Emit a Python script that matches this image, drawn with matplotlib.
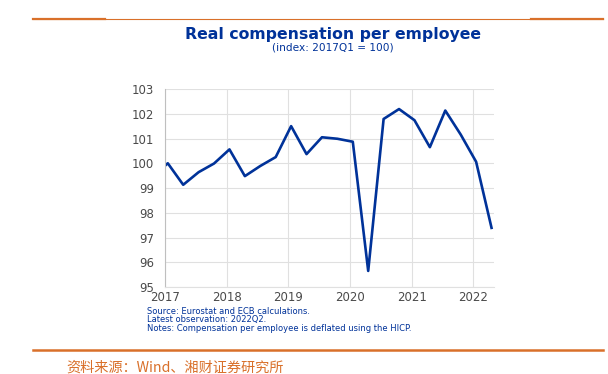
import numpy as np
import matplotlib.pyplot as plt

# quarterly data, 2016Q4 .. 2022Q2
quarters = ["2016Q4",
            "2017Q1", "2017Q2", "2017Q3", "2017Q4",
            "2018Q1", "2018Q2", "2018Q3", "2018Q4",
            "2019Q1", "2019Q2", "2019Q3", "2019Q4",
            "2020Q1", "2020Q2", "2020Q3", "2020Q4",
            "2021Q1", "2021Q2", "2021Q3", "2021Q4",
            "2022Q1", "2022Q2"]
values = [99.45,
          100.0, 99.13, 99.64, 99.99,
          100.56, 99.48, 99.89, 100.25,
          101.50, 100.37, 101.05, 100.99,
          100.87, 95.65, 101.79, 102.19,
          101.74, 100.65, 102.13, 101.16,
          100.06, 97.39]
year_ticks = [2017, 2018, 2019, 2020, 2021, 2022]
y_ticks = [95, 96, 97, 98, 99, 100, 101, 102, 103]

blue = "#003299"
orange = "#d9702a"

x = np.array([int(q[:4]) + (int(q[5]) - 1) / 4 + 0.045 for q in quarters])

fig = plt.figure(figsize=(6.08, 3.74), dpi=100)
ax = fig.add_axes([0.2714, 0.2326, 0.5411, 0.5294])

ax.plot(x, values, color=blue, lw=1.9, clip_on=True)
ax.set_xlim(2017, 2022.335)
ax.set_ylim(95, 103)
ax.set_xticks(year_ticks)
ax.set_yticks(y_ticks)
ax.grid(True, color="#e0e0e0", lw=0.8)
ax.set_axisbelow(True)
for s in ["top", "right"]:
    ax.spines[s].set_visible(False)
ax.spines["left"].set_color("#bfbfbf")
ax.spines["bottom"].set_color("#e0e0e0")
ax.tick_params(axis="y", length=0, pad=8, labelsize=8.5, labelcolor="#4a4a4a")
ax.tick_params(axis="x", length=0, pad=3, labelsize=8.5, labelcolor="#4a4a4a")

fig.text(0.548, 1 - 34.5 / 374, "Real compensation per employee", ha="center", va="center",
         fontsize=11.3, fontweight="bold", color=blue)
fig.text(0.548, 1 - 47 / 374, "(index: 2017Q1 = 100)", ha="center", va="center",
         fontsize=7.6, color=blue)

notes = ["Source: Eurostat and ECB calculations.",
         "Latest observation: 2022Q2.",
         "Notes: Compensation per employee is deflated using the HICP."]
for i, t in enumerate(notes):
    fig.text(0.242, 1 - (311 + i * 8.7) / 374, t, ha="left", va="center",
             fontsize=6.0, color=blue)

# orange rules
fig.add_artist(plt.Line2D([33 / 608, 603 / 608], [1 - 19 / 374] * 2, color=orange, lw=0.8))
fig.add_artist(plt.Line2D([33 / 608, 105 / 608], [1 - 19 / 374] * 2, color=orange, lw=1.6))
fig.add_artist(plt.Line2D([531 / 608, 603 / 608], [1 - 19 / 374] * 2, color=orange, lw=1.6))
fig.add_artist(plt.Line2D([33 / 608, 603 / 608], [1 - 350 / 374] * 2, color=orange, lw=1.8))

fig.text(66 / 608, 1 - 368 / 374, "资料来源：Wind、湘财证券研究所", ha="left", va="center",
         fontsize=10.2, color=orange, family=["Noto Sans CJK SC", "DejaVu Sans"])

fig.savefig("out.png", dpi=100)
